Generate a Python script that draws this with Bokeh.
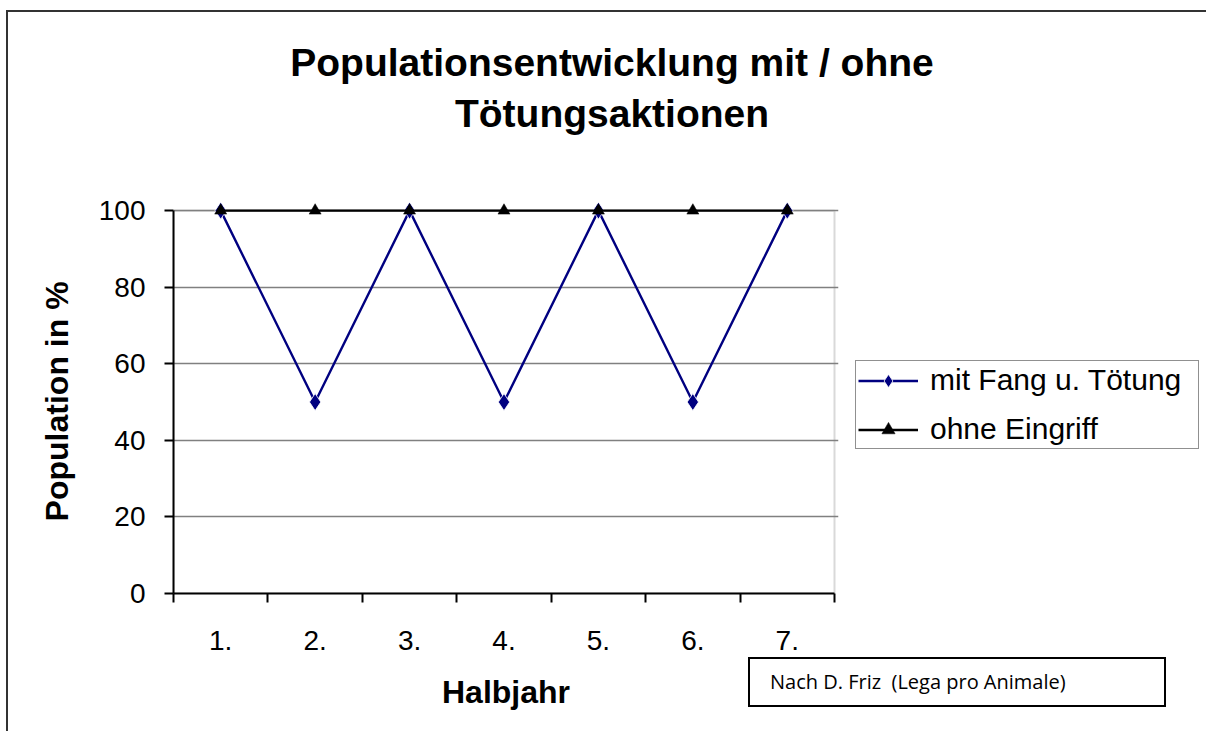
from bokeh.plotting import figure
from bokeh.models import (Range1d, FixedTicker, Legend, LegendItem, BoxAnnotation, Div)
from bokeh.layouts import column
from bokeh.embed import file_html
from bokeh.resources import INLINE

# ---- data ----
halbjahr = [1, 2, 3, 4, 5, 6, 7]
halbjahr_labels = ["1.", "2.", "3.", "4.", "5.", "6.", "7."]
mit_fang = [100, 50, 100, 50, 100, 50, 100]
ohne_eingriff = [100, 100, 100, 100, 100, 100, 100]
y_ticks = [0, 20, 40, 60, 80, 100]
series_names = ["mit Fang u. Tötung", "ohne Eingriff"]

title_line1 = "Populationsentwicklung mit / ohne"
title_line2 = "Tötungsaktionen"
x_title = "Halbjahr"
y_title = "Population in %"
credit = "Nach D. Friz  (Lega pro Animale)"

FONT = "Liberation Sans"

# ---- geometry (page pixels) ----
OX, OY = 8, 12          # canvas origin on the page (margin + outer border)
W = 1195
F_LEFT, F_BOTTOM = 173, 591
PX_PER_X = (832 - 173) / 7.0
PX_PER_Y = 381 / 100.0
F_RIGHT = 836
X0 = 0.5
X1 = X0 + (F_RIGHT - F_LEFT) / PX_PER_X
Y_MAX = 105
F_TOP = int(round(F_BOTTOM - Y_MAX * PX_PER_Y))
BOTTOM_PANEL = 140

p = figure(frame_width=F_RIGHT - F_LEFT, frame_height=F_BOTTOM - F_TOP,
           output_backend="svg", toolbar_location=None, title=None,
           x_range=Range1d(X0, X1), y_range=Range1d(0, Y_MAX),
           min_border_left=F_LEFT - OX, min_border_right=W - (F_RIGHT - OX),
           min_border_top=F_TOP - OY, min_border_bottom=BOTTOM_PANEL,
           background_fill_color="white", border_fill_color="white",
           styles={"margin-left": "6px", "margin-top": "10px",
                   "border-left": "2px solid #333333", "border-top": "2px solid #333333"})
p.outline_line_color = None

# axes
xa = p.xaxis[0]
xa.ticker = FixedTicker(ticks=halbjahr, minor_ticks=[h - 0.5 for h in halbjahr] + [halbjahr[-1] + 0.5])
xa.bounds = (0.5, 7.5)
xa.major_label_overrides = {h: l for h, l in zip(halbjahr, halbjahr_labels)}
xa.major_tick_out = 0
xa.major_tick_in = 0
xa.minor_tick_out = 9
xa.minor_tick_in = 0
xa.minor_tick_line_color = "black"
xa.minor_tick_line_width = 2
xa.axis_line_color = "black"
xa.axis_line_width = 2
xa.major_label_text_font = FONT
xa.major_label_text_font_size = "28px"
xa.major_label_text_color = "black"
xa.major_label_standoff = 28
xa.axis_label = x_title
xa.axis_label_text_font = FONT
xa.axis_label_text_font_size = "32px"
xa.axis_label_text_font_style = "bold"
xa.axis_label_text_color = "black"
xa.axis_label_standoff = 21

ya = p.yaxis[0]
ya.ticker = FixedTicker(ticks=y_ticks, minor_ticks=[])
ya.bounds = (0, 100)
ya.major_tick_out = 9
ya.major_tick_in = 0
ya.major_tick_line_width = 2
ya.major_tick_line_color = "black"
ya.minor_tick_out = 0
ya.minor_tick_in = 0
ya.axis_line_color = "black"
ya.axis_line_width = 2
ya.major_label_text_font = FONT
ya.major_label_text_font_size = "28px"
ya.major_label_text_color = "black"
ya.major_label_standoff = 19
# two no-break spaces keep the label centred on the 0..100 span rather than the whole frame
ya.axis_label = y_title + "\u00a0\u00a0"
ya.axis_label_text_font = FONT
ya.axis_label_text_font_size = "32px"
ya.axis_label_text_font_style = "bold"
ya.axis_label_text_color = "black"
ya.axis_label_standoff = 21

p.xgrid.grid_line_color = None
p.ygrid.ticker = FixedTicker(ticks=y_ticks)
p.ygrid.bounds = (0.5, 7.5)
p.ygrid.grid_line_color = "#808080"
p.ygrid.grid_line_width = 1.5

# plot area border (top/right in gray)
p.add_layout(BoxAnnotation(left=0.5, right=7.5, bottom=0, top=100,
                           fill_alpha=0, line_color="#808080", line_width=2, level="underlay"))

# series
l1 = p.line(halbjahr, mit_fang, line_color="#000080", line_width=2.4)
m1 = p.scatter(halbjahr, mit_fang, marker="diamond", size=17, fill_color="#000080",
               line_color="white", line_width=0.8)
l2 = p.line(halbjahr, ohne_eingriff, line_color="black", line_width=2.4)
m2 = p.scatter(halbjahr, ohne_eingriff, marker="triangle", size=12, fill_color="black",
               line_color="black", line_width=0.5)

legend = Legend(items=[LegendItem(label=series_names[0], renderers=[l1, m1]),
                       LegendItem(label=series_names[1], renderers=[l2, m2])],
                location=(853 - F_RIGHT, F_BOTTOM - 447))
legend.label_text_font = FONT
legend.label_text_font_size = "30px"
legend.label_text_color = "black"
legend.glyph_width = 60
legend.glyph_height = 33
legend.label_height = 33
legend.label_width = 266
legend.label_standoff = 12
legend.spacing = 15
legend.padding = 2
legend.margin = 0
legend.border_line_color = "#222222"
legend.border_line_width = 1.5
legend.background_fill_color = "white"
legend.background_fill_alpha = 1
p.add_layout(legend, "right")

# page bottom of the figure
canvas_bottom = OY + (F_TOP - OY) + (F_BOTTOM - F_TOP) + BOTTOM_PANEL

# credit box, pulled up into the bottom band of the chart
CREDIT_TOP, CREDIT_H = 657, 50
credit_div = Div(text=credit, width=418, height=CREDIT_H,
                 styles={"margin-left": "748px", "margin-top": f"{CREDIT_TOP - canvas_bottom}px",
                         "border": "2px solid black", "box-sizing": "border-box",
                         "padding-left": "20px", "line-height": "46px", "white-space": "pre",
                         "font-family": "Open Sans", "font-size": "20px",
                         "color": "black", "background": "white"})

# two-line centred title, laid over the top band of the chart
TITLE_TOP, TITLE_W, TITLE_CX = 32, 720, 612
title_div = Div(text=title_line1 + "<br>" + title_line2, width=TITLE_W, height=102,
                styles={"margin-left": f"{TITLE_CX - TITLE_W // 2}px",
                        "margin-top": f"{TITLE_TOP - (CREDIT_TOP + CREDIT_H)}px",
                        "text-align": "center", "line-height": "51px",
                        "font-family": FONT, "font-size": "39px", "font-weight": "bold",
                        "color": "black", "white-space": "nowrap"})

layout = column(p, credit_div, title_div)

open("out.html", "w").write(file_html(layout, INLINE))
